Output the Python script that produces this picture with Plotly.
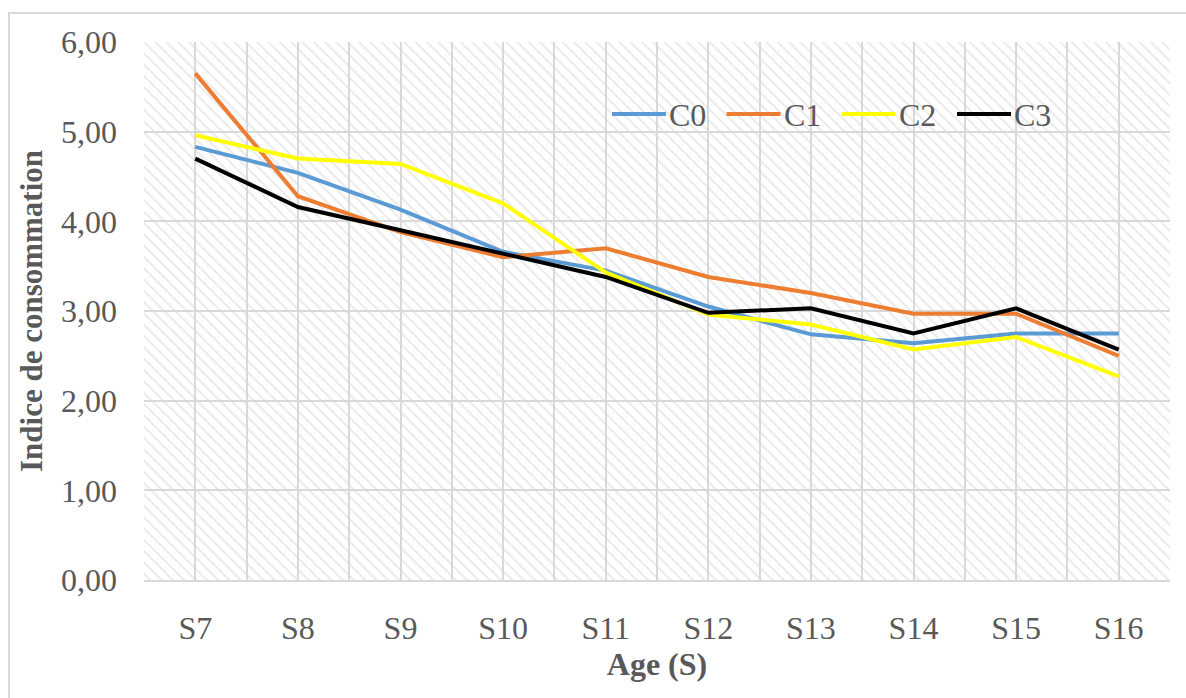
import plotly.graph_objects as go

categories = ["S7", "S8", "S9", "S10", "S11", "S12", "S13", "S14", "S15", "S16"]
C0 = [4.83, 4.54, 4.13, 3.66, 3.45, 3.05, 2.74, 2.64, 2.75, 2.75]
C1 = [5.65, 4.28, 3.88, 3.60, 3.70, 3.38, 3.20, 2.97, 2.97, 2.50]
C2 = [4.96, 4.70, 4.64, 4.20, 3.43, 2.96, 2.85, 2.57, 2.71, 2.27]
C3 = [4.70, 4.16, 3.90, 3.64, 3.38, 2.98, 3.03, 2.75, 3.03, 2.57]
series_names = ["C0", "C1", "C2", "C3"]
series_values = [C0, C1, C2, C3]
series_colors = ["#5B9BD5", "#ED7D31", "#FFFF00", "#000000"]
y_ticks = [0, 1, 2, 3, 4, 5, 6]

W, H = 1186, 698
L, R, T, B = 144, 16, 42, 118
pw, ph = W - L - R, H - T - B

def px_x(p):
    return (p - L) / pw

def px_y(p):
    return (H - B - p) / ph

idx = list(range(len(categories)))
x_range = [-0.5, len(categories) - 0.5]
y_range = [y_ticks[0], y_ticks[-1]]

FONT = "Liberation Serif, Times New Roman, serif"
GREY = "#595959"
GRID = "#d9d9d9"

fig = go.Figure()

# hatched plot-area background
fig.add_trace(go.Scatter(
    x=[x_range[0], x_range[1], x_range[1], x_range[0], x_range[0]],
    y=[y_range[0], y_range[0], y_range[1], y_range[1], y_range[0]],
    mode="none", fill="toself", fillcolor="rgba(0,0,0,0)",
    fillpattern=dict(shape="\\", fgcolor="#d6d6d6", bgcolor="rgba(0,0,0,0)",
                     size=8, solidity=0.25),
    hoverinfo="skip", showlegend=False))

for name, vals, col in zip(series_names, series_values, series_colors):
    fig.add_trace(go.Scatter(x=idx, y=vals, name=name, mode="lines",
                             line=dict(color=col, width=4), showlegend=False))

# manual legend (Excel-like long line samples)
legend_line_starts = [612, 726.5, 841.5, 957]
legend_y = 114
shapes = []
annotations = []
for name, col, x0 in zip(series_names, series_colors, legend_line_starts):
    shapes.append(dict(type="line", xref="paper", yref="paper",
                       x0=px_x(x0), x1=px_x(x0 + 54), y0=px_y(legend_y), y1=px_y(legend_y),
                       line=dict(color=col, width=4)))
    annotations.append(dict(text=name, xref="paper", yref="paper",
                            x=px_x(x0 + 55), y=px_y(legend_y + 1), xanchor="left", yanchor="middle",
                            showarrow=False, font=dict(family=FONT, size=32, color=GREY)))

# outer chart border
shapes.append(dict(type="rect", xref="paper", yref="paper",
                   x0=px_x(9), x1=px_x(W + 5), y0=px_y(H + 5), y1=px_y(13),
                   line=dict(color=GRID, width=2), fillcolor="rgba(0,0,0,0)", layer="below"))

fig.update_layout(
    width=W, height=H,
    margin=dict(l=L, r=R, t=T, b=B, pad=0),
    paper_bgcolor="white", plot_bgcolor="white",
    separators=", ",
    font=dict(family=FONT, size=32, color=GREY),
    shapes=shapes, annotations=annotations,
    showlegend=False,
)
fig.update_xaxes(
    range=x_range, tickmode="array", tickvals=idx, ticktext=categories,
    showgrid=True, gridcolor=GRID, gridwidth=1.5,
    minor=dict(dtick=0.5, tick0=-0.5, showgrid=True, gridcolor=GRID, gridwidth=1.5),
    showline=True, linecolor=GRID, linewidth=1.5, mirror=False,
    zeroline=False, ticks="", ticklabelstandoff=19,
    tickfont=dict(family=FONT, size=32, color=GREY),
    title=dict(text="<b>Age (S)</b>", font=dict(family=FONT, size=32, color=GREY), standoff=3),
)
fig.update_yaxes(
    range=y_range, tickmode="array", tickvals=y_ticks, tickformat=".2f",
    showgrid=True, gridcolor=GRID, gridwidth=1.5, zeroline=False,
    showline=False, ticks="", ticklabelstandoff=26,
    tickfont=dict(family=FONT, size=32, color=GREY),
    title=dict(text="<b>Indice de consommation</b>", font=dict(family=FONT, size=31, color=GREY), standoff=9),
)

fig.write_html("out.html")
